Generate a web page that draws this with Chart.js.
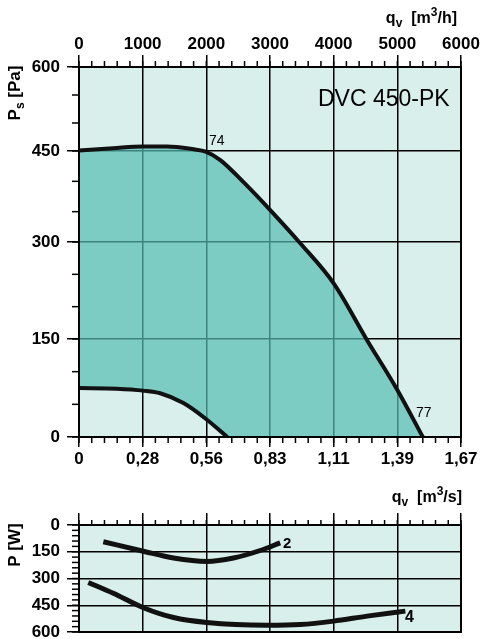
<!DOCTYPE html>
<html>
<head>
<meta charset="utf-8">
<script src="https://cdn.jsdelivr.net/npm/chart.js@4/dist/chart.umd.min.js"></script>
<style>
  body { margin: 0; background: #fff; width: 481px; height: 639px; position: relative; overflow: hidden;
         font-family: "Liberation Sans", Arial, sans-serif; }
  .box { position: absolute; left: 0; width: 481px; }
  #topBox { top: 0; height: 480px; }
  #botBox { top: 480px; height: 159px; }
  .t { position: absolute; white-space: nowrap; color: #000; line-height: 16px; }
  .ttl { font-weight: bold; font-size: 16px; }
  .rot { font-weight: bold; font-size: 17px; transform: translate(-50%, -50%) rotate(-90deg); }
  sub { font-size: 12px; vertical-align: 0; position: relative; top: 4px; }
  sup { font-size: 12px; vertical-align: 0; position: relative; top: -7px; }
</style>
</head>
<body>
<div class="box" id="topBox"><canvas id="fanChart"></canvas></div>
<div class="box" id="botBox"><canvas id="powerChart"></canvas></div>

<div class="t ttl" style="right:24px; top:10px;">q<sub>v</sub>&nbsp;&nbsp;[m<sup>3</sup>/h]</div>
<div class="t ttl" style="right:19px; top:489px;">q<sub>v</sub>&nbsp;&nbsp;[m<sup>3</sup>/s]</div>
<div class="t rot" style="left:15px; top:93px;">P<sub>s</sub>&nbsp;[Pa]</div>
<div class="t rot" style="left:15px; top:545px;">P&nbsp;[W]</div>
<div class="t" style="left:318px; top:87px; font-size:23px; line-height:23px;">DVC 450-PK</div>
<div class="t" style="left:209px; top:133px; font-size:14px; line-height:14px;">74</div>
<div class="t" style="left:416px; top:405px; font-size:14px; line-height:14px;">77</div>
<div class="t" style="left:283px; top:535px; font-size:15px; line-height:15px; font-weight:bold;">2</div>
<div class="t" style="left:405px; top:609px; font-size:16px; line-height:16px; font-weight:bold;">4</div>

<script>
// tick labels
const flowM3hLabels = ["0", "1000", "2000", "3000", "4000", "5000", "6000"];
const flowM3sLabels = ["0", "0,28", "0,56", "0,83", "1,11", "1,39", "1,67"];

// fan curve at max speed (label 74), flow in m3/h, pressure in Pa
const curve74Q = [0, 535, 1000, 1385, 1800, 1990, 2220, 2580, 3000, 3475, 4000, 4520, 5000, 5400];
const curve74Ps = [451, 455, 458, 458, 453, 449, 435, 399, 353, 298, 236, 149, 72, 0];

// lowest speed curve
const curveMinQ = [0, 590, 1010, 1275, 1640, 1990, 2330];
const curveMinPs = [75, 74, 71, 67, 52, 28, 0];

// power input curves
const power2Q = [382, 1011, 1484, 2008, 2426, 2846, 3160];
const power2P = [94, 147, 185, 204, 185, 143, 100];
const power4Q = [146, 539, 1011, 1484, 2008, 2950, 3475, 3998, 4524, 5126];
const power4P = [322, 383, 464, 519, 547, 562, 558, 539, 511, 483];

const LIGHT = "#d8efec";
const TEAL = "rgba(85, 190, 180, 0.7)";
const tickFont = { family: "Liberation Sans", size: 17, weight: "bold" };

function pts(xs, ys) {
  return xs.map((x, i) => ({ x: x, y: ys[i] }));
}

// pressure axis of the printed chart is not evenly spaced; each band gets its own height
class BentScale extends Chart.LinearScale {
  static id = "bent";
  static defaults = Chart.LinearScale.defaults;

  toDecimal(v) {
    const bands = this.options.bands;
    const total = bands.reduce((a, b) => a + b, 0);
    const step = (this.max - this.min) / bands.length;
    const pos = (v - this.min) / step;
    const i = Math.max(0, Math.min(bands.length - 1, Math.floor(pos)));
    let acc = 0;
    for (let k = 0; k < i; k++) acc += bands[k];
    return (acc + (pos - i) * bands[i]) / total;
  }
  getPixelForValue(v) {
    if (v === null || isNaN(v)) return NaN;
    return this.getPixelForDecimal(this.toDecimal(v));
  }
  getValueForPixel(p) {
    const bands = this.options.bands;
    const total = bands.reduce((a, b) => a + b, 0);
    const step = (this.max - this.min) / bands.length;
    let d = this.getDecimalForPixel(p) * total;
    for (let i = 0; i < bands.length; i++) {
      if (d <= bands[i] || i === bands.length - 1) return this.min + (i + d / bands[i]) * step;
      d -= bands[i];
    }
  }
}
Chart.register(BentScale);

// plot background, frame and small ticks
const frame = {
  id: "frame",
  beforeDraw(chart, args, opts) {
    const a = chart.chartArea, ctx = chart.ctx;
    ctx.save();
    ctx.fillStyle = opts.fill;
    ctx.fillRect(a.left, a.top, a.right - a.left, a.bottom - a.top);
    ctx.restore();
  },
  afterDraw(chart) {
    const a = chart.chartArea, ctx = chart.ctx;
    ctx.save();
    ctx.strokeStyle = "#000";
    ctx.lineWidth = 1.5;
    Object.values(chart.scales).forEach(s => {
      const m = s.options.minor;
      if (!m) return;
      const n = Math.round((s.max - s.min) / m.step);
      for (let i = 0; i <= n; i++) {
        const p = s.getPixelForValue(s.min + i * m.step);
        ctx.beginPath();
        if (s.position === "top") { ctx.moveTo(p, a.top); ctx.lineTo(p, a.top - m.length); }
        else if (s.position === "bottom") { ctx.moveTo(p, a.bottom); ctx.lineTo(p, a.bottom + m.length); }
        else { ctx.moveTo(a.left, p); ctx.lineTo(a.left - m.length, p); }
        ctx.stroke();
      }
    });
    ctx.lineWidth = 2;
    ctx.strokeRect(a.left, a.top, a.right - a.left, a.bottom - a.top);
    ctx.restore();
  }
};

function fixSize(prop, size) {
  return s => {
    s[prop] = size;
    s.paddingLeft = s.paddingRight = s.paddingTop = s.paddingBottom = 0;
  };
}

const fanChart = new Chart(document.getElementById("fanChart"), {
  type: "line",
  data: {
    datasets: [
      {
        data: pts(curveMinQ, curveMinPs),
        borderColor: "#111",
        borderWidth: 4,
        fill: false
      },
      {
        data: pts(curve74Q, curve74Ps),
        borderColor: "#111",
        borderWidth: 4,
        backgroundColor: TEAL,
        fill: "+1"
      },
      {
        // lower edge of the working area: lowest curve, then along zero
        data: pts(curveMinQ, curveMinPs).concat([{ x: curve74Q[curve74Q.length - 1], y: 0 }]),
        borderWidth: 0,
        borderColor: "transparent",
        fill: false
      }
    ]
  },
  options: {
    responsive: true,
    maintainAspectRatio: false,
    animation: false,
    events: [],
    layout: { padding: { right: 20 } },
    elements: { point: { radius: 0 }, line: { cubicInterpolationMode: "monotone" } },
    plugins: {
      legend: { display: false },
      tooltip: { enabled: false },
      filler: { drawTime: "beforeDatasetsDraw" },
      frame: { fill: LIGHT }
    },
    scales: {
      x: {
        type: "linear",
        position: "bottom",
        min: 0, max: 6000,
        minor: { step: 200, length: 6 },
        ticks: { stepSize: 1000, padding: 2, color: "#000", font: tickFont,
                 maxRotation: 0, callback: v => flowM3sLabels[Math.round(v / 1000)] },
        grid: { color: "#000", lineWidth: 1.5, tickLength: 10 },
        border: { color: "#000", width: 2 },
        afterFit: fixSize("height", 43)
      },
      xTop: {
        type: "linear",
        position: "top",
        min: 0, max: 6000,
        minor: { step: 200, length: 6 },
        ticks: { stepSize: 1000, padding: 0, color: "#000", font: tickFont,
                 maxRotation: 0, callback: v => flowM3hLabels[Math.round(v / 1000)] },
        grid: { drawOnChartArea: false, color: "#000", lineWidth: 1.5, tickLength: 12 },
        border: { color: "#000", width: 2 },
        afterFit: fixSize("height", 67)
      },
      y: {
        type: "bent",
        bands: [98, 97, 91, 84],
        min: 0, max: 600,
        minor: { step: 50, length: 7 },
        ticks: { stepSize: 150, padding: 7, color: "#000", font: tickFont, callback: v => String(v) },
        grid: { color: "#000", lineWidth: 1.5, tickLength: 12 },
        border: { color: "#000", width: 2 },
        afterFit: fixSize("width", 79)
      }
    }
  },
  plugins: [frame]
});

const powerChart = new Chart(document.getElementById("powerChart"), {
  type: "line",
  data: {
    datasets: [
      { data: pts(power2Q, power2P), borderColor: "#111", borderWidth: 5, fill: false },
      { data: pts(power4Q, power4P), borderColor: "#111", borderWidth: 5, fill: false }
    ]
  },
  options: {
    responsive: true,
    maintainAspectRatio: false,
    animation: false,
    events: [],
    layout: { padding: { right: 20, bottom: 7 } },
    elements: { point: { radius: 0 }, line: { cubicInterpolationMode: "monotone" } },
    plugins: {
      legend: { display: false },
      tooltip: { enabled: false },
      frame: { fill: LIGHT }
    },
    scales: {
      x: {
        type: "linear",
        position: "top",
        min: 0, max: 6000,
        minor: { step: 200, length: 5 },
        ticks: { stepSize: 1000, display: false },
        grid: { color: "#000", lineWidth: 1.5, tickLength: 12 },
        border: { color: "#000", width: 2 },
        afterFit: fixSize("height", 45)
      },
      y: {
        type: "linear",
        reverse: true,
        min: 0, max: 600,
        minor: { step: 30, length: 7 },
        ticks: { stepSize: 150, padding: 7, color: "#000", font: tickFont, callback: v => String(v) },
        grid: { color: "#000", lineWidth: 1.5, tickLength: 12 },
        border: { color: "#000", width: 2 },
        afterFit: fixSize("width", 79)
      }
    }
  },
  plugins: [frame]
});
</script>
</body>
</html>
